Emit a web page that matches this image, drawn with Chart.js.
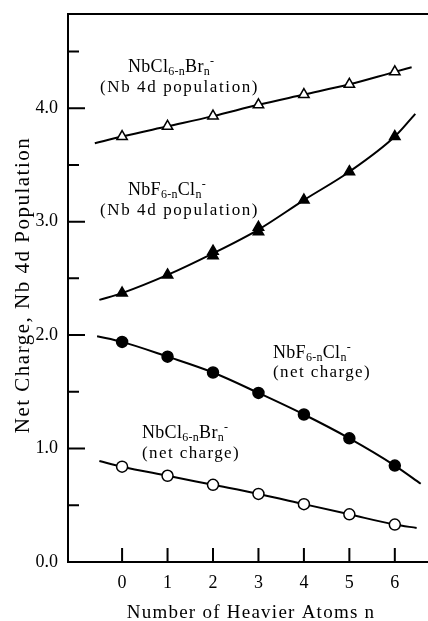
<!DOCTYPE html>
<html>
<head>
<meta charset="utf-8">
<script src="https://cdn.jsdelivr.net/npm/chart.js@4"></script>
<style>
  html, body { margin: 0; padding: 0; background: #fff; }
  #wrap { width: 428px; height: 621px; }
</style>
</head>
<body>
<div id="wrap"><canvas id="chart" width="428" height="621"></canvas></div>
<script>
// tick positions
const xTicks = [0, 1, 2, 3, 4, 5, 6]
const yMajor = [0, 1, 2, 3, 4]
const yMinor = [0.5, 1.5, 2.5, 3.5, 4.5]

// measured points
const nAtoms = [0, 1, 2, 3, 4, 5, 6]
const brPop = [3.75, 3.84, 3.93, 4.03, 4.12, 4.21, 4.32]
const clPopN = [0, 1, 2, 2, 3, 3, 4, 5, 6]
const clPop = [2.37, 2.53, 2.70, 2.74, 2.91, 2.95, 3.19, 3.44, 3.75]
const clCharge = [1.94, 1.81, 1.67, 1.49, 1.30, 1.09, 0.85]
const brCharge = [0.84, 0.76, 0.68, 0.60, 0.51, 0.42, 0.33]

// smooth fitted curves
const brPopCurveN = [-0.6, 0, 1, 2, 3, 4, 5, 6, 6.37]
const brPopCurve = [3.69, 3.75, 3.84, 3.93, 4.03, 4.12, 4.21, 4.32, 4.36]
const clPopCurveN = [-0.5, 0, 1, 2, 3, 4, 5, 6, 6.45]
const clPopCurve = [2.31, 2.37, 2.53, 2.72, 2.93, 3.19, 3.44, 3.75, 3.95]
const clChargeCurveN = [-0.55, 0, 1, 2, 3, 4, 5, 6, 6.57]
const clChargeCurve = [1.99, 1.94, 1.81, 1.67, 1.49, 1.30, 1.09, 0.85, 0.69]
const brChargeCurveN = [-0.5, 0, 1, 2, 3, 4, 5, 6, 6.48]
const brChargeCurve = [0.89, 0.84, 0.76, 0.68, 0.60, 0.51, 0.42, 0.33, 0.30]

const serif = "'Liberation Serif', 'DejaVu Serif', serif"

function pts(xs, ys) {
  return xs.map((x, i) => ({ x: x, y: ys[i] }))
}

function curve(xs, ys) {
  return {
    data: pts(xs, ys),
    showLine: true,
    borderColor: "#000",
    borderWidth: 2,
    pointRadius: 0,
    cubicInterpolationMode: "monotone",
    order: 2
  }
}

function markers(xs, ys, style, fill, r) {
  return {
    data: pts(xs, ys),
    showLine: false,
    pointStyle: style,
    pointRadius: r,
    pointBackgroundColor: fill,
    pointBorderColor: "#000",
    pointBorderWidth: 1.5,
    order: 1
  }
}

// formula pieces: [text, kind]
function drawFormula(ctx, parts, x, y) {
  parts.forEach(p => {
    let size = 18, dy = 0
    if (p[1] == "sub") { size = 12; dy = 3 }
    if (p[1] == "sup") { size = 12; dy = -7 }
    ctx.font = size + "px " + serif
    ctx.letterSpacing = "0.3px"
    ctx.fillText(p[0], x, y + dy)
    x += ctx.measureText(p[0]).width
  })
}

function drawLine(ctx, text, x, y, size, spacing) {
  ctx.font = size + "px " + serif
  ctx.letterSpacing = spacing + "px"
  ctx.fillText(text, x, y)
}

const brFormula = [["NbCl", "n"], ["6-n", "sub"], ["Br", "n"], ["n", "sub"], ["-", "sup"]]
const clFormula = [["NbF", "n"], ["6-n", "sub"], ["Cl", "n"], ["n", "sub"], ["-", "sup"]]

const frame = {
  id: "frame",
  afterDatasetsDraw(chart) {
    const ctx = chart.ctx
    const xs = chart.scales.x, ys = chart.scales.y
    const a = chart.chartArea
    ctx.save()
    ctx.strokeStyle = "#000"
    ctx.fillStyle = "#000"
    ctx.lineWidth = 2
    // top border
    ctx.beginPath()
    ctx.moveTo(a.left - 1, a.top)
    ctx.lineTo(a.right, a.top)
    ctx.stroke()
    // inner ticks
    ctx.beginPath()
    yMajor.forEach(v => {
      const py = ys.getPixelForValue(v)
      ctx.moveTo(a.left, py); ctx.lineTo(a.left + 17, py)
    })
    yMinor.forEach(v => {
      const py = ys.getPixelForValue(v)
      ctx.moveTo(a.left, py); ctx.lineTo(a.left + 11, py)
    })
    xTicks.forEach(v => {
      const px = xs.getPixelForValue(v)
      ctx.moveTo(px, a.bottom); ctx.lineTo(px, a.bottom - 14)
    })
    ctx.stroke()

    // curve labels
    ctx.textAlign = "left"
    ctx.textBaseline = "alphabetic"
    drawFormula(ctx, brFormula, 128, 72)
    drawLine(ctx, "(Nb 4d population)", 100, 92, 17, 1.6)
    drawFormula(ctx, clFormula, 128, 195)
    drawLine(ctx, "(Nb 4d population)", 100, 215, 17, 1.6)
    drawFormula(ctx, clFormula, 273, 358)
    drawLine(ctx, "(net charge)", 273, 377, 17, 1.4)
    drawFormula(ctx, brFormula, 142, 438)
    drawLine(ctx, "(net charge)", 142, 458, 17, 1.4)

    // axis titles
    ctx.textAlign = "center"
    drawLine(ctx, "Number of Heavier Atoms n", 251, 618, 19, 1.25)
    ctx.translate(29, 285)
    ctx.rotate(-Math.PI / 2)
    drawLine(ctx, "Net Charge, Nb 4d Population", 0, 0, 21, 1.5)
    ctx.restore()
  }
}

new Chart(document.getElementById("chart"), {
  type: "scatter",
  data: {
    datasets: [
      curve(brPopCurveN, brPopCurve),
      curve(clPopCurveN, clPopCurve),
      curve(clChargeCurveN, clChargeCurve),
      curve(brChargeCurveN, brChargeCurve),
      markers(nAtoms, brPop, "triangle", "#fff", 6),
      markers(clPopN, clPop, "triangle", "#000", 6),
      markers(nAtoms, clCharge, "circle", "#000", 5.5),
      markers(nAtoms, brCharge, "circle", "#fff", 5.5)
    ]
  },
  options: {
    responsive: false,
    animation: false,
    layout: { autoPadding: false, padding: { top: 14, right: 0, left: 0, bottom: 0 } },
    plugins: { legend: { display: false }, tooltip: { enabled: false } },
    scales: {
      x: {
        type: "linear",
        min: -1.19,
        max: 6.73,
        grid: { display: false, drawTicks: false },
        border: { display: true, color: "#000", width: 2 },
        afterFit: s => { s.height = 59; s.paddingLeft = 0; s.paddingRight = 0 },
        afterBuildTicks: s => { s.ticks = xTicks.map(v => ({ value: v })) },
        ticks: { color: "#000", padding: 10, font: { family: serif, size: 18 } }
      },
      y: {
        type: "linear",
        min: 0,
        max: 4.83,
        grid: { display: false, drawTicks: false },
        border: { display: true, color: "#000", width: 2 },
        afterFit: s => { s.width = 68; s.paddingTop = 0; s.paddingBottom = 0 },
        afterBuildTicks: s => { s.ticks = yMajor.map(v => ({ value: v })) },
        ticks: {
          color: "#000",
          padding: 10,
          font: { family: serif, size: 18 },
          callback: v => v.toFixed(1)
        }
      }
    }
  },
  plugins: [frame]
})
</script>
</body>
</html>
